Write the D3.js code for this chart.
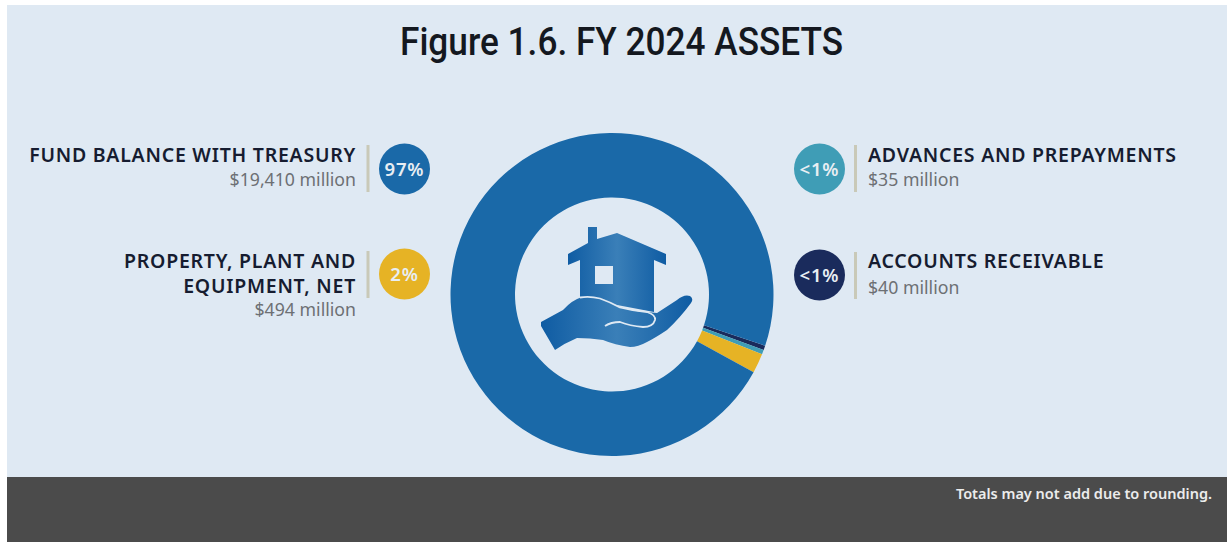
<!DOCTYPE html>
<html><head><meta charset="utf-8">
<script src="https://cdn.jsdelivr.net/npm/d3@7"></script>
<style>html,body{margin:0;padding:0;background:#fff}svg{display:block}</style></head>
<body><svg id="c" width="1228" height="542"></svg>
<script>
const categories = ["ACCOUNTS RECEIVABLE","ADVANCES AND PREPAYMENTS","PROPERTY, PLANT AND EQUIPMENT, NET","FUND BALANCE WITH TREASURY"];
const amounts = ["$40 million","$35 million","$494 million","$19,410 million"];
const shares = ["<1%","<1%","2%","97%"];
// Slice sizes as drawn in the reference: its thin slices are not strictly to scale with the stated amounts.
const drawnValues = [90,90,390,19410];
const colors = ["#1a2b5c","#3f9db6","#e6b325","#1a69a8"];
const titleText = "Figure 1.6. FY 2024 ASSETS";
const noteText = "Totals may not add due to rounding.";

const svg = d3.select("#c");
const body = "'Noto Sans',sans-serif";
const defs = svg.append("defs");
const grad = defs.append("linearGradient").attr("id","g");
[["0%","#0f5ca3"],["50%","#3a7fb8"],["100%","#0f5ca3"]].forEach(s=>grad.append("stop").attr("offset",s[0]).attr("stop-color",s[1]));

svg.append("rect").attr("x",7).attr("y",5).attr("width",1220).attr("height",472).attr("fill","#dfe9f3");
svg.append("rect").attr("x",7).attr("y",477).attr("width",1220).attr("height",65).attr("fill","#4b4b4b");
svg.append("text").text(titleText).attr("x",400).attr("y",55)
  .attr("textLength",443).attr("lengthAdjust","spacingAndGlyphs")
  .attr("font-family","Roboto,sans-serif").attr("font-weight",500).attr("font-size",38).attr("fill","#14181f");
svg.append("text").text(noteText).attr("x",1212).attr("y",499).attr("text-anchor","end")
  .attr("font-family",body).attr("font-weight",600).attr("font-size",14.5).attr("fill","#ececec");

// donut
const cx=612, cy=294.5;
const start = 108.5*Math.PI/180;
const pie = d3.pie().sort(null).value(d=>d).startAngle(start).endAngle(start+2*Math.PI);
const arc = d3.arc().innerRadius(97).outerRadius(161.5);
svg.append("g").attr("transform",`translate(${cx},${cy})`).selectAll("path").data(pie(drawnValues)).join("path")
  .attr("d",arc).attr("fill",(d,i)=>colors[i]);

// icon
const icon = svg.append("g").attr("fill","url(#g)");
icon.append("path").attr("d","M588 227H597V239L617 233L666 254V265L654 260V312L580 298V260L568 265V254L588 243Z");
svg.append("rect").attr("x",595).attr("y",266).attr("width",18).attr("height",18).attr("fill","#dfe9f3");
icon.append("path").attr("d","M541 322L563 310Q572 300 582 297Q600 296 620 307Q635 312 647 312L657 313L677 300Q684 294 690 296Q694 299 691 303Q680 318 667 330Q655 338 647 342Q638 347 630 347Q615 345 603 340Q590 338 577 338Q565 343 555 350L541 326Z");
svg.append("path").attr("d","M580 297.5Q590 296 600 298.5Q610 302 620 307.5Q633 311 647 312Q656 315 655 320Q653 327 643 327Q630 326 620 322Q611 322 605 326")
  .attr("fill","none").attr("stroke","#dfe9f3").attr("stroke-width",1.8);

// legend
const rows = [
 {i:3,side:"l",y:169,lines:["FUND BALANCE WITH TREASURY"],ly:[162],ay:186,bar:[145,192]},
 {i:2,side:"l",y:274,lines:["PROPERTY, PLANT AND","EQUIPMENT, NET"],ly:[268,293],ay:316,bar:[251,298]},
 {i:1,side:"r",y:169,lines:["ADVANCES AND PREPAYMENTS"],ly:[162],ay:186,bar:[145,192]},
 {i:0,side:"r",y:275,lines:["ACCOUNTS RECEIVABLE"],ly:[268],ay:293.5,bar:[252,299]}
];
rows.forEach(r=>{
  const left = r.side==="l";
  const tx = left?356:868, bx = left?368:855.5, ccx = left?404.5:819.5, anc = left?"end":"start";
  svg.append("rect").attr("x",bx-1.5).attr("y",r.bar[0]).attr("width",3).attr("height",r.bar[1]-r.bar[0]).attr("fill","#c9c9b8");
  svg.append("circle").attr("cx",ccx).attr("cy",r.y).attr("r",25.5).attr("fill",colors[r.i]);
  svg.append("text").text(shares[r.i]).attr("x",ccx).attr("y",r.y+6.5).attr("text-anchor","middle")
    .attr("font-family",body).attr("font-weight",600).attr("font-size",18.5).attr("letter-spacing",0.8).attr("fill","#e8eef3");
  r.lines.forEach((t,k)=>svg.append("text").text(t).attr("x",tx).attr("y",r.ly[k]).attr("text-anchor",anc)
    .attr("font-family",body).attr("font-weight",600).attr("font-size",19.5).attr("letter-spacing",0.75).attr("fill","#161c30"));
  svg.append("text").text(amounts[r.i]).attr("x",tx).attr("y",r.ay).attr("text-anchor",anc)
    .attr("font-family",body).attr("font-size",17.7).attr("fill","#6d7074");
});
</script></body></html>
